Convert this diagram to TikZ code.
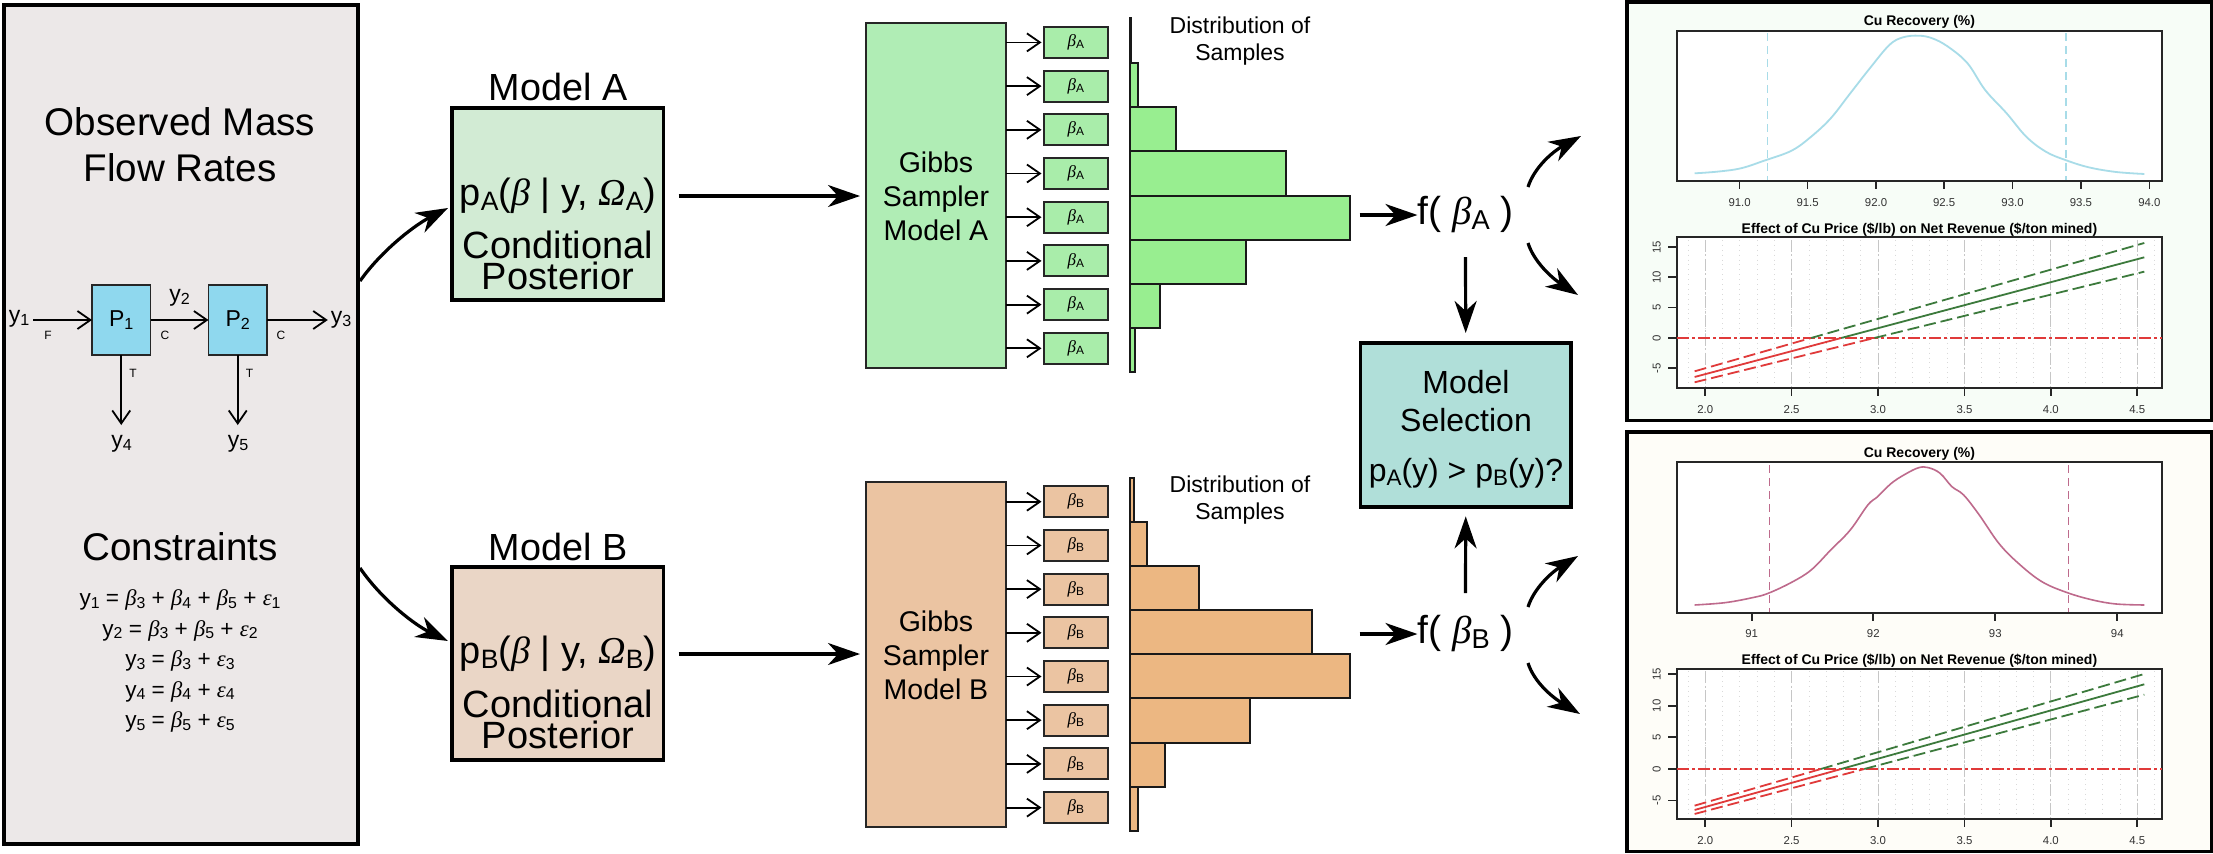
\documentclass[tikz,border=0pt]{standalone}
\usepackage{fontspec}
\setmainfont{Liberation Sans}
\newfontfamily\grk{Liberation Serif}
\usetikzlibrary{arrows.meta,calc}
\newcommand{\fsz}[2]{\fontsize{#1pt}{#2pt}\selectfont}
\newcommand{\sbx}[1]{\raisebox{-0.22ex}{\scalebox{0.7}{#1}}}
\newcommand{\bet}{{\grk\itshape β}}
\newcommand{\eps}{{\grk\itshape ε}}
\newcommand{\Om}{{\grk\itshape Ω}}
\newcommand{\pbox}[7]{\node[#6,minimum width={((#4)-(#2))*0.5pt},minimum height={((#5)-(#3))*0.5pt}] (#1) at ({((#2)+(#4))/2},{((#3)+(#5))/2}) {#7};}
\definecolor{leftfill}{HTML}{ECE8E8}
\definecolor{procfill}{HTML}{8FD8EE}
\definecolor{condA}{HTML}{D2EBD4}
\definecolor{condB}{HTML}{EAD6C6}
\definecolor{gibbsA}{HTML}{B0EDB5}
\definecolor{gibbsB}{HTML}{EBC4A2}
\definecolor{histA}{HTML}{98EE90}
\definecolor{histB}{HTML}{ECB782}
\definecolor{selfill}{HTML}{B0DFD9}
\definecolor{curveA}{HTML}{A8DCE8}
\definecolor{curveB}{HTML}{BE6A8C}
\definecolor{pfA}{HTML}{F7FDF7}
\definecolor{pfB}{HTML}{FEFDF8}
\definecolor{redl}{HTML}{E03A3A}
\definecolor{grnl}{HTML}{3C7A3C}
\tikzset{
  box/.style={draw=black,inner sep=0pt,outer sep=0pt,line width=1.6pt},
  thinbox/.style={draw=black!85,inner sep=0pt,outer sep=0pt,line width=1pt},
  bar/.style={draw=black!90,inner sep=0pt,outer sep=0pt,line width=1pt},
  lbl/.style={inner sep=0pt,outer sep=0pt,align=center},
  thinarrow/.style={line width=0.9pt,-{Straight Barb[length=6.5pt,width=9pt]}},
  bigarrow/.style={line width=1.6pt,-{Stealth[length=16pt,width=11pt,inset=5pt]}},
  tickl/.style={lbl,font=\fsz{5.7}{7},text=black!80},
  ttl/.style={lbl,font=\bfseries\fsz{7}{8}},
  axisl/.style={line width=0.85pt,black!85},
  regr/.style={line width=0.9pt,redl},
  regg/.style={line width=0.9pt,grnl},
  regdash/.style={dash pattern=on 6pt off 2.5pt},
  vdash/.style={line width=0.8pt,dash pattern=on 4pt off 2.5pt},
  zeroline/.style={redl,line width=0.8pt,dash pattern=on 6pt off 1.5pt on 1.5pt off 1.5pt},
}
% revenue-plot axes and grid, args: top, bottom, y-tick list, prefix
\newcommand{\revaxes}[4]{
  \foreach \i in {0,...,27}{\draw[gray!30,line width=0.45pt,dotted] ({225+44.2*\i},{#1+8}) -- ({225+44.2*\i},{#2-4});}
  \foreach \X in {269,490,711,932,1153,1374}{\draw[gray!45,line width=0.5pt,dash pattern=on 6pt off 1.2pt on 1pt off 1.2pt] (\X,{#1+8}) -- (\X,{#2-4});}
  \draw[axisl] (197,#1) rectangle (1438,#2);
  \foreach \X/\l in {269/2.0,490/2.5,711/3.0,932/3.5,1153/4.0,1374/4.5}{
    \draw[axisl] (\X,#2) -- (\X,{#2+24});
    \node[tickl] (#4x\X) at (\X,{#2+64}) {\l};}
  \foreach \Y/\l in {#3}{
    \draw[axisl] (175,\Y) -- (197,\Y);
    \node[tickl,rotate=90] (#4y\Y) at (145,\Y) {\l};}
}
\begin{document}
\begin{tikzpicture}[x=0.5pt,y=-0.5pt]
\useasboundingbox (0,0) rectangle (2213,853);
% left panel
\pbox{left}{4}{5}{358}{844}{box,fill=leftfill}{}
\node[lbl,font=\fsz{19.3}{23}] (obs) at (180,145) {Observed Mass\\Flow Rates};
\pbox{p1}{92}{285}{150.5}{355}{thinbox,line width=.7pt,fill=procfill}{\fsz{11.5}{11}P\sbx{1}}
\pbox{p2}{208.5}{285}{267}{355}{thinbox,line width=.7pt,fill=procfill}{\fsz{11.5}{11}P\sbx{2}}
\node[lbl,font=\fsz{11.5}{11}] (y1) at (19,319) {y\sbx{1}};
\node[lbl,font=\fsz{11.5}{11}] (y2) at (179.5,298) {y\sbx{2}};
\node[lbl,font=\fsz{11.5}{11}] (y3) at (341,320) {y\sbx{3}};
\node[lbl,font=\fsz{11.5}{11}] (y4) at (121.5,444) {y\sbx{4}};
\node[lbl,font=\fsz{11.5}{11}] (y5) at (238,444) {y\sbx{5}};
\draw[thinarrow] (y1.east |- p1.west) ++(2pt,0) -- (p1.west);
\draw[thinarrow] (p1.east) -- (p2.west);
\draw[thinarrow,shorten >=1.5pt] (p2.east) -- (y3.west |- p2.east);
\draw[thinarrow] (p1.south) -- ++(0,70);
\draw[thinarrow] (p2.south) -- ++(0,70);
\node[lbl,font=\fsz{6}{7}] (lf) at (48,335) {F};
\node[lbl,font=\fsz{6}{7}] (lc1) at (165,335) {C};
\node[lbl,font=\fsz{6}{7}] (lc2) at (281,335) {C};
\node[lbl,font=\fsz{6}{7}] (lt1) at (133,373) {T};
\node[lbl,font=\fsz{6}{7}] (lt2) at (249.5,373) {T};
\node[lbl,font=\fsz{19.3}{20}] (cons) at (180,547) {Constraints};
\node[lbl,font=\fsz{11.3}{15.25}] (eqs) at (180,661) {
y\sbx{1} = \bet\sbx{3} + \bet\sbx{4} + \bet\sbx{5} + \eps\sbx{1}\\
y\sbx{2} = \bet\sbx{3} + \bet\sbx{5} + \eps\sbx{2}\\
y\sbx{3} = \bet\sbx{3} + \eps\sbx{3}\\
y\sbx{4} = \bet\sbx{4} + \eps\sbx{4}\\
y\sbx{5} = \bet\sbx{5} + \eps\sbx{5}};
% models
\node[lbl,font=\fsz{18.9}{20}] (titleA) at (558,87) {Model A};
\node[lbl,font=\fsz{18.9}{20}] (titleB) at (558,547) {Model B};
\pbox{condA}{452}{108}{663.5}{300}{box,fill=condA}{}
\pbox{condB}{452}{567}{663.5}{760}{box,fill=condB}{}
\node[lbl,font=\fsz{19}{22}] (fa) at (558,196) {p\sbx{A}(\bet\ | y, \Om\sbx{A})};
\node[lbl,font=\fsz{19}{22}] (fb) at (558,654) {p\sbx{B}(\bet\ | y, \Om\sbx{B})};
\node[lbl,font=\fsz{19}{15.5}] (ca) at (558,260) {Conditional\\Posterior};
\node[lbl,font=\fsz{19}{15.5}] (cb) at (558,719) {Conditional\\Posterior};
\coordinate (lo1) at (360,281);
\coordinate (lo2) at (360,568);
\coordinate (ci1) at (448,208);
\coordinate (ci2) at (448,641);
\draw[bigarrow] (lo1) .. controls (382,250) and (415,225) .. (ci1);
\draw[bigarrow] (lo2) .. controls (382,600) and (415,625) .. (ci2);
% gibbs
\pbox{gA}{866}{23}{1006}{368}{thinbox,fill=gibbsA}{}
\pbox{gB}{866}{482}{1006}{827}{thinbox,fill=gibbsB}{}
\node[lbl,font=\fsz{14.25}{17}] (gta) at (936,196) {Gibbs\\Sampler\\Model A};
\node[lbl,font=\fsz{14.25}{17}] (gtb) at (936,655) {Gibbs\\Sampler\\Model B};
\draw[bigarrow,shorten <=7.5pt,shorten >=3pt] (fa.east -| condA.east) -- (fa.east -| gA.west);
\draw[bigarrow,shorten <=7.5pt,shorten >=3pt] (fb.east -| condB.east) -- (fb.east -| gB.west);
% beta boxes
\foreach \i in {0,...,7}{
  \pgfmathsetmacro{\cy}{42.4+43.7*\i}
  \pbox{bA\i}{1044}{\cy-15.5}{1107.5}{\cy+15.5}{thinbox,fill=gibbsA!70!histA}{\fsz{8.5}{9}\bet\sbx{A}}
  \draw[thinarrow] (gA.east |- bA\i.west) -- ++(35.5,0);
  \pgfmathsetmacro{\dy}{501.7+43.7*\i}
  \pbox{bB\i}{1044}{\dy-15.5}{1107.5}{\dy+15.5}{thinbox,fill=gibbsB}{\fsz{8.5}{9}\bet\sbx{B}}
  \draw[thinarrow] (gB.east |- bB\i.west) -- ++(35.5,0);
}
% histograms
\foreach \n/\a/\b/\r in {1/62.7/107/1138,2/107/151.3/1176,3/151.3/195.5/1286,4/195.5/239.5/1350,5/239.5/283.7/1246,6/283.7/328/1159.6,7/328/372/1135}{
  \pbox{hA\n}{1130}{\a}{\r}{\b}{bar,fill=histA}{}
}
\pbox{hA0}{1130}{18}{1131}{62.7}{bar,fill=black}{}
\foreach \n/\a/\b/\r in {0/477.7/522/1133.7,1/522/566/1147,2/566/610/1199,3/610/654.3/1311.7,4/654.3/698.3/1350,5/698.3/742.7/1250,6/742.7/787/1165,7/787/831/1138}{
  \pbox{hB\n}{1130}{\a}{\r}{\b}{bar,fill=histB}{}
}
\node[lbl,font=\fsz{11.5}{13.75}] (da) at (1240,41) {Distribution of\\Samples};
\node[lbl,font=\fsz{11.5}{13.75}] (db) at (1240,500) {Distribution of\\Samples};
% f nodes
\node[lbl,font=\fsz{19.5}{22}] (fA) at (1465.5,215) {f( \bet\sbx{A} )};
\node[lbl,font=\fsz{19.5}{22}] (fB) at (1465.5,634) {f( \bet\sbx{B} )};
\draw[bigarrow,shorten <=4.8pt] (fA.west -| hA4.east) -- (fA.west);
\draw[bigarrow,shorten <=4.8pt] (fB.west -| hB4.east) -- (fB.west);
% selection
\pbox{sel}{1360.5}{343}{1571}{507}{box,fill=selfill}{}
\node[lbl,font=\fsz{16}{19}] (selt) at (1466,401) {Model\\Selection};
\node[lbl,font=\fsz{16}{19}] (self) at (1466,473) {p\sbx{A}(y) > p\sbx{B}(y)?};
\draw[bigarrow,shorten >=5pt] (fA.center |- 0,257) -- (sel.north);
\draw[bigarrow,shorten >=4.7pt] (fB.center |- 0,593) -- (sel.south);
\coordinate (fa1) at (1528,187); \coordinate (ta1) at (1581,136);
\coordinate (fa2) at (1528,243); \coordinate (ta2) at (1578,295);
\coordinate (fb1) at (1528,607); \coordinate (tb1) at (1578,556);
\coordinate (fb2) at (1528,663); \coordinate (tb2) at (1580,714);
\draw[bigarrow] (fa1) .. controls (1534,168) and (1552,152) .. (ta1);
\draw[bigarrow] (fa2) .. controls (1534,262) and (1552,278) .. (ta2);
\draw[bigarrow] (fb1) .. controls (1534,588) and (1552,572) .. (tb1);
\draw[bigarrow] (fb2) .. controls (1534,682) and (1552,697) .. (tb2);
% right panels
\pbox{panA}{1627}{2}{2212}{420.7}{box,fill=pfA}{}
\pbox{panB}{1627}{432}{2212}{851.5}{box,fill=pfB}{}
% panel A
\begin{scope}[shift={(1600,0)},xscale=0.391,yscale=0.3333]
  \fill[white] (197,92) rectangle (1438,544);
  \fill[white] (197,712) rectangle (1438,1164);
  \node[ttl] (ta) at (817,67) {Cu Recovery (\%)};
  \draw[curveA,line width=0.9pt] plot[smooth,tension=0.6] coordinates {(242,520) (300,515) (360,505) (420,482) (490,452) (540,410) (590,355) (640,280) (690,205) (740,135) (775,112) (815,107) (850,115) (890,140) (940,190) (985,270) (1040,340) (1090,410) (1140,455) (1190,480) (1250,502) (1320,516) (1392,522)};
  \draw[curveA,vdash] (428,100) -- (428,544);
  \draw[curveA,vdash] (1191,100) -- (1191,544);
  \draw[axisl] (197,92) rectangle (1438,544);
  \foreach \X/\l in {357/91.0,531/91.5,706/92.0,880/92.5,1055/93.0,1230/93.5,1405/94.0}{
    \draw[axisl] (\X,544) -- (\X,568);
    \node[tickl] (ax\X) at (\X,608) {\l};}
  \node[ttl] (tb) at (817,688) {Effect of Cu Price (\$/lb) on Net Revenue (\$/ton mined)};
  \revaxes{712}{1164}{742/15,832/10,923/5,1014/0,1104/{-5}}{ar}
  \draw[zeroline] (197,1014) -- (1438,1014);
  \draw[regr] (242,1131) -- (617,1014);
  \draw[regg] (617,1014) -- (1392,772);
  \draw[regr,regdash] (242,1114) -- (540,1014);
  \draw[regg,regdash] (540,1014) -- (1392,729);
  \draw[regr,regdash] (242,1147) -- (702,1014);
  \draw[regg,regdash] (702,1014) -- (1392,815);
\end{scope}
% panel B
\begin{scope}[shift={(1600,425)},xscale=0.391,yscale=0.3333]
  \fill[white] (197,110) rectangle (1438,563);
  \fill[white] (197,731) rectangle (1438,1183);
  \node[ttl] (tc) at (817,87) {Cu Recovery (\%)};
  \draw[curveB,line width=0.8pt] plot[smooth,tension=0.6] coordinates {(242,540) (320,533) (390,518) (430,505) (490,472) (540,435) (590,375) (640,315) (685,240) (710,215) (745,175) (780,148) (815,128) (840,128) (870,145) (900,185) (930,210) (970,270) (1020,355) (1070,415) (1130,470) (1195,503) (1260,525) (1320,537) (1392,540)};
  \draw[curveB,vdash] (433,120) -- (433,563);
  \draw[curveB,vdash] (1198,120) -- (1198,563);
  \draw[axisl] (197,110) rectangle (1438,563);
  \foreach \X/\l in {388/91,699/92,1011/93,1323/94}{
    \draw[axisl] (\X,563) -- (\X,587);
    \node[tickl] (bx\X) at (\X,627) {\l};}
  \node[ttl] (td) at (817,707) {Effect of Cu Price (\$/lb) on Net Revenue (\$/ton mined)};
  \revaxes{731}{1183}{748/15,843/10,937/5,1032/0,1127/{-5}}{br}
  \draw[zeroline] (197,1032) -- (1438,1032);
  \draw[regr] (242,1155) -- (617,1032);
  \draw[regg] (617,1032) -- (1392,778);
  \draw[regr,regdash] (242,1142) -- (565,1032);
  \draw[regg,regdash] (565,1032) -- (1392,747);
  \draw[regr,regdash] (242,1167) -- (676,1032);
  \draw[regg,regdash] (676,1032) -- (1392,809);
\end{scope}
\end{tikzpicture}
\end{document}
